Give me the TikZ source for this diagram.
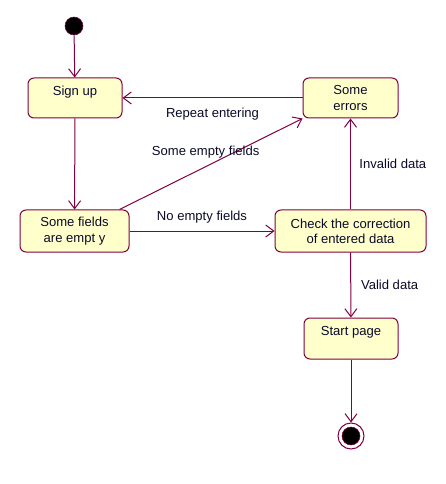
\documentclass[tikz,border=0pt]{standalone}
\usepackage{fontspec}
\setmainfont{Liberation Sans}
\usepackage{tikz}
\usetikzlibrary{arrows.meta}
\usetikzlibrary{calc}

\definecolor{umlline}{RGB}{128,0,64}
\definecolor{umlfill}{RGB}{255,255,204}
\definecolor{umltext}{RGB}{10,10,40}

\begin{document}
\begin{tikzpicture}[x=0.75pt,y=-0.75pt]%%signup

                \tikzstyle{state}  = [rectangle, rounded corners=4.5pt, draw=umlline, fill=umlfill, line width=0.75pt, inner sep=0pt, align=center, text=umltext, font=\fontsize{9.8}{11.5}\selectfont]
                \tikzstyle{trans}  = [draw=umlline, line width=0.75pt, -{Straight Barb[length=6pt,width=9pt]}]
                \tikzstyle{guard}  = [text=umltext, font=\fontsize{9.8}{11.5}\selectfont]
                \useasboundingbox (0,0) rectangle (445,484);

                \node [circle, draw=umlline, fill=black, minimum size=13.5pt, inner sep=0pt](init) at (74,26) {};
                \node [state, minimum width=70.5pt, minimum height=30pt](signup) at (75,98) {Sign up\\~};
                \node [state, minimum width=71.25pt, minimum height=30pt](errors) at (350.5,98) {Some\\errors};
                \node [state, minimum width=81.75pt, minimum height=31.5pt](fields) at (74.5,231) {Some fields\\are empt y};
                \node [state, minimum width=113.25pt, minimum height=31.5pt](check) at (350.5,231) {Check the correction\\of entered data};
                \node [state, minimum width=70.5pt, minimum height=30.75pt](start) at (351,338.5) {Start page\\~};
                \node [circle, draw=umlline, line width=0.75pt, fill=white, minimum size=19.5pt, inner sep=0pt](final) at (351,436) {};
                \node [circle, draw=umlline, fill=black, minimum size=13.5pt, inner sep=0pt](finaldot) at (final) {};

                \draw [trans] (init) -- (signup);
                \draw [trans] (signup) -- (fields);
                \draw [trans] (errors) -- node[guard, below=4pt]{Repeat entering} (signup);
                \draw [trans] ($(fields.north east)+(-10,0)$) -- node[guard, above=1pt, xshift=-4pt]{Some empty fields} (errors.south west);
                \draw [trans] (fields) -- node[guard, above=2pt]{No empty fields} (check);
                \draw [trans] (check) -- node[guard, right=3pt]{Invalid data} (errors);
                \draw [trans] (check) -- node[guard, right=4pt]{Valid data} (start);
                \draw [trans] (start) -- (final);
\end{tikzpicture}
\end{document}
